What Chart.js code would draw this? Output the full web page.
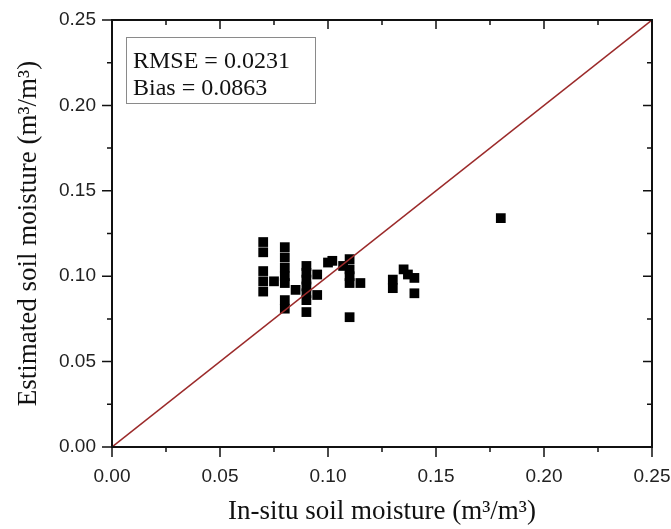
<!DOCTYPE html>
<html>
<head>
<meta charset="utf-8">
<script src="https://cdn.jsdelivr.net/npm/chart.js@4/dist/chart.umd.min.js"></script>
<style>
  html, body { margin: 0; padding: 0; background: #fff; }
  #wrap { width: 671px; height: 529px; }
</style>
</head>
<body>
<div id="wrap"><canvas id="c" width="671" height="529"></canvas></div>
<script>
// In-situ soil moisture (x) and estimated soil moisture (y)
const inSitu = [
  0.070, 0.070, 0.070, 0.070, 0.070,
  0.075,
  0.080, 0.080, 0.080, 0.080, 0.080, 0.080, 0.080,
  0.085,
  0.090, 0.090, 0.090, 0.090, 0.090, 0.090, 0.090,
  0.095, 0.095,
  0.100, 0.102, 0.107,
  0.110, 0.110, 0.110, 0.110, 0.110,
  0.115,
  0.130, 0.130,
  0.135, 0.137,
  0.140, 0.140,
  0.180
];
const estimated = [
  0.120, 0.114, 0.103, 0.097, 0.091,
  0.097,
  0.117, 0.111, 0.105, 0.100, 0.096, 0.086, 0.081,
  0.092,
  0.106, 0.102, 0.098, 0.094, 0.090, 0.086, 0.079,
  0.101, 0.089,
  0.108, 0.109, 0.106,
  0.110, 0.104, 0.100, 0.096, 0.076,
  0.096,
  0.098, 0.093,
  0.104, 0.101,
  0.099, 0.090,
  0.134
];
const oneToOne = [0, 0.25];
const tickValues = [0, 0.025, 0.05, 0.075, 0.10, 0.125, 0.15, 0.175, 0.20, 0.225, 0.25];
const statLines = ["RMSE = 0.0231", "Bias = 0.0863"];
const xTitle = "In-situ soil moisture (m\u00B3/m\u00B3)";
const yTitle = "Estimated soil moisture (m\u00B3/m\u00B3)";

const points = inSitu.map((x, i) => ({ x: x, y: estimated[i] }));
const linePts = oneToOne.map(v => ({ x: v, y: v }));

const isMajor = v => Math.abs(Math.round(v / 0.05) * 0.05 - v) < 1e-9;

const framePlugin = {
  id: 'frame',
  afterDatasetsDraw(chart) {
    const { ctx, chartArea: a, scales } = chart;
    const xs = scales.x, ys = scales.y;
    ctx.save();
    ctx.strokeStyle = '#111';
    // frame
    ctx.lineWidth = 2;
    ctx.beginPath();
    ctx.moveTo(a.left, a.top - 1); ctx.lineTo(a.left, a.bottom + 1);
    ctx.moveTo(a.left - 1, a.bottom); ctx.lineTo(a.right + 1, a.bottom);
    ctx.moveTo(a.right, a.bottom + 1); ctx.lineTo(a.right, a.top - 1);
    ctx.moveTo(a.right + 1, a.top); ctx.lineTo(a.left - 1, a.top);
    ctx.stroke();
    // ticks
    ctx.lineWidth = 1.5;
    ctx.beginPath();
    tickValues.forEach(v => {
      const outLen = isMajor(v) ? 10 : 5;
      const inLen = isMajor(v) ? 9 : 5;
      const px = xs.getPixelForValue(v);
      const py = ys.getPixelForValue(v);
      ctx.moveTo(px, a.bottom); ctx.lineTo(px, a.bottom + outLen);
      ctx.moveTo(px, a.top); ctx.lineTo(px, a.top + inLen);
      ctx.moveTo(a.left, py); ctx.lineTo(a.left - outLen, py);
      ctx.moveTo(a.right, py); ctx.lineTo(a.right - inLen, py);
    });
    ctx.stroke();
    // stats box
    const bx = a.left + 14, by = a.top + 17, bw = 189, bh = 66;
    ctx.lineWidth = 1;
    ctx.strokeStyle = '#8a8a8a';
    ctx.strokeRect(bx + 0.5, by + 0.5, bw, bh);
    ctx.fillStyle = '#111';
    ctx.font = '24px "Liberation Serif", "Times New Roman", serif';
    ctx.textBaseline = 'alphabetic';
    ctx.textAlign = 'left';
    ctx.fillText(statLines[0], bx + 7, by + 31);
    ctx.fillText(statLines[1], bx + 7, by + 58);
    ctx.restore();
  }
};

new Chart(document.getElementById('c'), {
  data: {
    datasets: [
      {
        type: 'line',
        data: linePts,
        borderColor: '#9b2a2a',
        borderWidth: 1.5,
        pointRadius: 0,
        fill: false,
        order: 0
      },
      {
        type: 'scatter',
        data: points,
        pointStyle: 'rect',
        pointRadius: 6.9,
        pointHoverRadius: 6.9,
        backgroundColor: '#000',
        borderColor: '#000',
        borderWidth: 0,
        order: 1
      }
    ]
  },
  options: {
    responsive: false,
    animation: false,
    events: [],
    layout: { padding: { top: 20, right: 19, left: 0, bottom: 0 } },
    plugins: { legend: { display: false }, tooltip: { enabled: false } },
    scales: {
      x: {
        type: 'linear',
        min: 0, max: 0.25,
        afterBuildTicks: s => { s.ticks = tickValues.map(v => ({ value: v })); },
        afterFit: s => { s.height = 82; s.paddingLeft = 0; s.paddingRight = 0; },
        grid: { display: false, drawTicks: false, tickLength: 0 },
        border: { display: false },
        ticks: {
          autoSkip: false,
          maxRotation: 0,
          padding: 18,
          color: '#222',
          font: { family: '"Liberation Sans", Arial, sans-serif', size: 19 },
          callback: v => isMajor(v) ? v.toFixed(2) : ''
        },
        title: {
          display: true,
          text: xTitle,
          color: '#111',
          font: { family: '"Liberation Serif", "Times New Roman", serif', size: 27 },
          padding: { top: 0, bottom: 1 }
        }
      },
      y: {
        type: 'linear',
        min: 0, max: 0.25,
        afterBuildTicks: s => { s.ticks = tickValues.map(v => ({ value: v })); },
        afterFit: s => { s.width = 112; s.paddingTop = 0; s.paddingBottom = 0; },
        grid: { display: false, drawTicks: false, tickLength: 0 },
        border: { display: false },
        ticks: {
          autoSkip: false,
          padding: 16,
          color: '#222',
          font: { family: '"Liberation Sans", Arial, sans-serif', size: 19 },
          callback: v => isMajor(v) ? v.toFixed(2) : ''
        },
        title: {
          display: true,
          text: yTitle,
          color: '#111',
          font: { family: '"Liberation Serif", "Times New Roman", serif', size: 27 },
          padding: { top: 13, bottom: 0 }
        }
      }
    }
  },
  plugins: [framePlugin]
});
</script>
</body>
</html>
